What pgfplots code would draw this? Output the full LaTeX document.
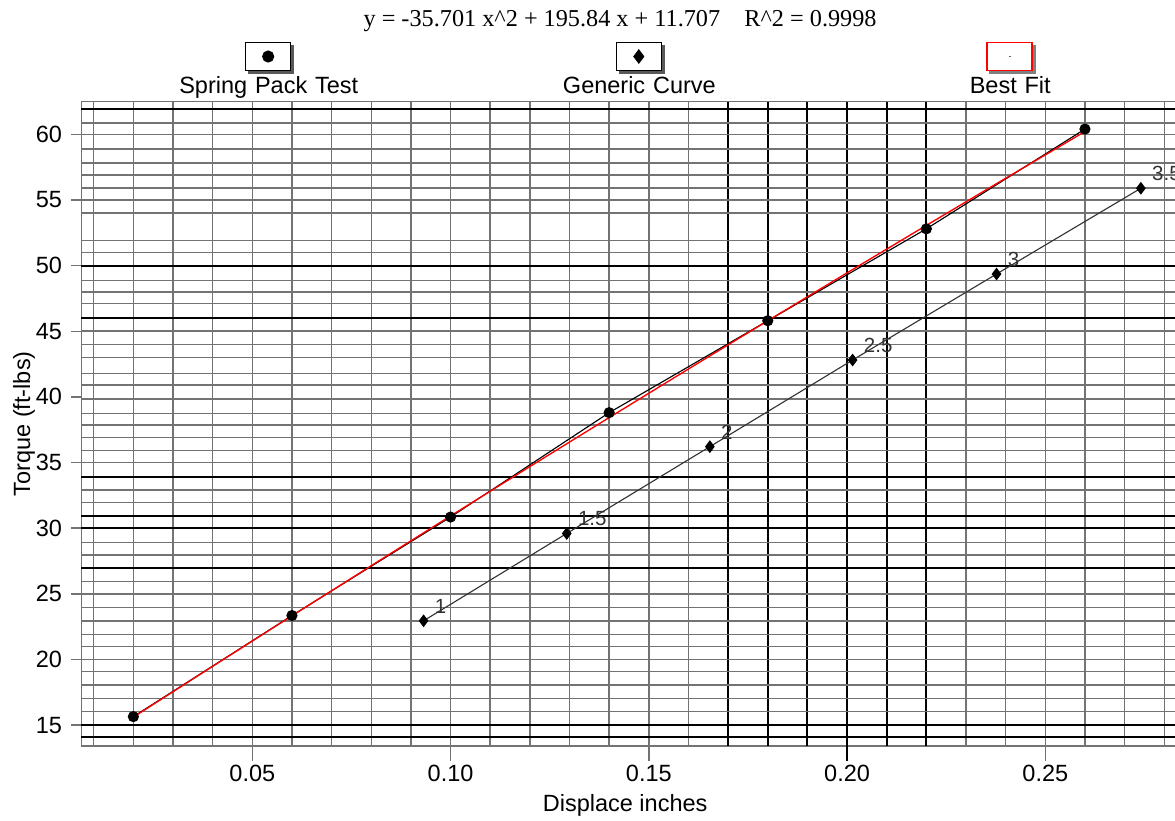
\documentclass[border=0pt]{standalone}
\usepackage{pgfplots}
\pgfplotsset{compat=1.18}
\usepackage{fontspec}
\setmainfont{Liberation Sans}
\newfontfamily\timesfont{Liberation Serif}
\tikzset{
  gline/.style={black!55,line width=0.6pt},
  bline/.style={black,line width=0.85pt},
  lbox/.style={fill=white,line width=0.5pt},
}
\begin{document}
\begin{tikzpicture}
\begin{axis}[
  x=1586pt, y=5.252pt,
  xmin=0.0069, xmax=0.284, ymin=13.41, ymax=62.48,
  clip=false,
  axis line style={black!55,line width=0.6pt},
  font=\fontsize{9.4}{11}\selectfont,
  xtick={0.05,0.10,0.15,0.20,0.25},
  ytick={15,20,...,60},
  tick pos=left,
  tick align=outside,
  xtick style={black!55,line width=0.6pt,/pgfplots/major tick length=6pt},
  ytick style={black!55,line width=0.6pt,/pgfplots/major tick length=4pt},
  x tick label style={/pgf/number format/.cd,fixed,fixed zerofill,precision=2,/tikz/.cd},
  /pgf/number format/assume math mode=true,
  xlabel={Displace inches},
  xlabel style={at={(axis description cs:0.4949,-0.102)},anchor=base},
  ylabel={Torque (ft-lbs)},
  ylabel style={at={(axis description cs:-0.0522,0.5)},anchor=center},
  legend columns=3,
  legend style={draw=none,fill=none,inner sep=0pt,
    at={(axis description cs:0.0325,1.0407)},anchor=north west,
    cells={anchor=base},
    nodes={anchor=base,text width=120pt,align=center,inner sep=0pt,
      text height=7pt,text depth=2pt,font=\fontsize{9.4}{11}\selectfont},
    /tikz/every even column/.append style={column sep=27.8pt},
    /tikz/every odd column/.append style={column sep=0pt}},
]
% chart paper grid
\pgfplotsinvokeforeach{0.01,0.02,0.03,0.04,0.05,0.06,0.07,0.08,0.09,0.10,0.11,0.12,0.13,0.14,0.15,0.16,0.23,0.24,0.25,0.26,0.27,0.28}{
  \draw[gline] (axis cs:#1,13.41) -- (axis cs:#1,62.48);}
\pgfplotsinvokeforeach{0.17,0.18,0.19,0.21,0.22}{
  \draw[bline] (axis cs:#1,13.41) -- (axis cs:#1,62.48);}
\draw[bline] (axis cs:0.20,12.27) -- (axis cs:0.20,62.48);
\pgfplotsinvokeforeach{60.85,60,58.87,57.83,56.9,55.9,55,54.02,51.9,50.98,48.85,48.0,47.13,45.02,44.0,43.0,41.8,40.9,39.84,38.75,37.86,36.9,35.9,35.0,32.9,31.94,28.93,27.96,25.93,25,23.95,22.93,21.92,20.98,20,19.07,18.06,17.05,16.03}{
  \draw[gline] (axis cs:0.0069,#1) -- (axis cs:0.284,#1);}
\pgfplotsinvokeforeach{61.9,50,46.03,33.92,30.93,30.0,26.99,15.0,14.1}{
  \draw[bline] (axis cs:0.0069,#1) -- (axis cs:0.284,#1);}

\addplot[black,line width=0.45pt,mark=*,mark size=2pt,
  legend image code/.code={
    \path (0pt,0pt);
    \begin{scope}[overlay,shift={(60pt,14.8pt)}]
      \fill[black!65] (-7.8pt,-6.8pt) rectangle (10.2pt,4.4pt);
      \draw[lbox,draw=black] (-9pt,-5.6pt) rectangle (9pt,5.6pt);
      \draw[mark=*,mark size=2.2pt,black] plot coordinates {(0pt,0pt)};
    \end{scope}}]
  coordinates {(0.02,15.65)(0.06,23.35)(0.10,30.85)(0.14,38.8)(0.18,45.8)(0.22,52.8)(0.26,60.4)};
\addlegendentry{Spring Pack Test}

\addplot[black!80,line width=0.45pt,mark=diamond*,mark size=2.2pt,
  mark options={black},
  nodes near coords,point meta=explicit symbolic,
  nodes near coords style={anchor=south west,inner sep=1pt,xshift=3.3pt,yshift=1.8pt,
    text=black!80,font=\fontsize{8.2}{9}\selectfont},
  legend image code/.code={
    \path (0pt,0pt);
    \begin{scope}[overlay,shift={(60pt,14.8pt)}]
      \fill[black!65] (-7.8pt,-6.8pt) rectangle (10.2pt,4.4pt);
      \draw[lbox,draw=black] (-9pt,-5.6pt) rectangle (9pt,5.6pt);
      \draw[mark=diamond*,mark size=2.6pt,black] plot coordinates {(0pt,0pt)};
    \end{scope}}]
  coordinates {(0.0932,22.95)[1] (0.1293,29.6)[1.5] (0.1654,36.21)[2] (0.2014,42.81)[2.5] (0.2377,49.36)[3] (0.2741,55.89)[3.5]};
\addlegendentry{Generic Curve}

\addplot[red,line width=0.55pt,mark=none,
  legend image code/.code={
    \path (0pt,0pt);
    \begin{scope}[overlay,shift={(60pt,14.8pt)}]
      \fill[black!50] (-7.8pt,-6.8pt) rectangle (10.2pt,4.4pt);
      \draw[lbox,draw=red] (-9pt,-5.6pt) rectangle (9pt,5.6pt);
      \draw[black!60,line width=0.5pt] plot coordinates {(-0.4pt,0pt)(0.4pt,0pt)};
    \end{scope}}]
  coordinates {(0.02,15.609)(0.04,19.483)(0.06,23.329)(0.08,27.146)(0.10,30.934)(0.12,34.694)(0.14,38.425)(0.16,42.127)(0.18,45.802)(0.20,49.447)(0.22,53.064)(0.24,56.652)(0.26,60.212)};
\addlegendentry{Best Fit}

% fit equation above the legend
\node[font=\timesfont\fontsize{9.7}{11}\selectfont,anchor=base,inner sep=0pt]
  at (axis description cs:0.4903,1.1164)
  {y = -35.701 x\textasciicircum 2 + 195.84 x + 11.707\quad R\textasciicircum 2 = 0.9998};

\coordinate (bbsw) at (axis cs:-0.013632,7.776);
\coordinate (bbne) at (axis cs:0.282711,70.2285);
\end{axis}
\pgfresetboundingbox
\path[use as bounding box] (bbsw) rectangle (bbne);
\end{tikzpicture}
\end{document}
